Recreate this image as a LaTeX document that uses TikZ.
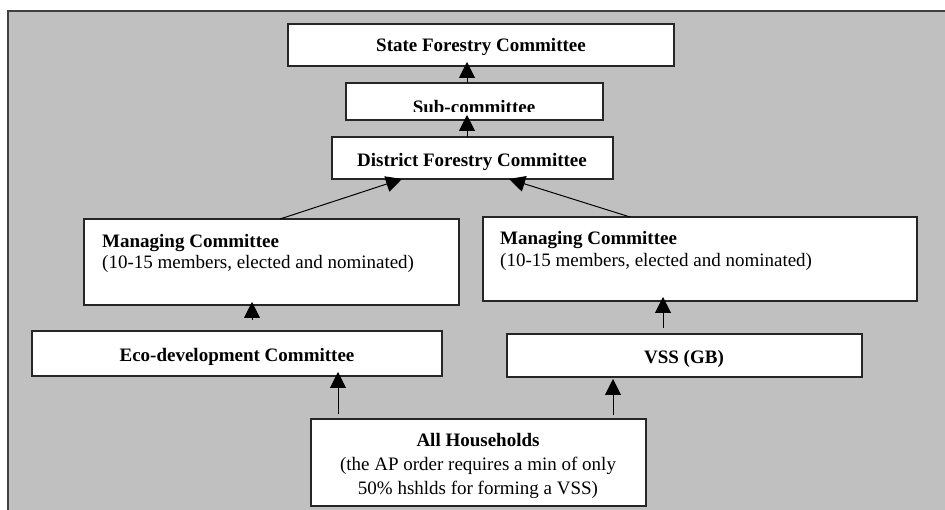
\documentclass[tikz,border=0pt]{standalone}
\usepackage{fontspec}
\setmainfont{Liberation Serif}
\usetikzlibrary{arrows.meta}

\definecolor{panel}{HTML}{C0C0C0}
\definecolor{rim}{HTML}{404040}

\tikzset{
  box/.style={draw=black!85, fill=white, line width=1.2pt, inner sep=0pt},
  lbl/.style={inner sep=0pt, anchor=base, font=\fontsize{19}{22}\selectfont\bfseries},
  lblleft/.style={inner sep=0pt, anchor=base west, font=\fontsize{19}{22}\selectfont},
  note/.style={inner sep=0pt, anchor=base, font=\fontsize{19}{22}\selectfont},
  link/.style={draw=black, line width=1pt, -{Triangle[length=16pt,width=16pt]}},
}

% box given by its corners (x1,y1) and (x2,y2), y measured downwards
\newcommand{\boxat}[5]{%
  \node[box, minimum width={#4-#2}, minimum height={#5-#3}] (#1) at ({(#2+#4)/2},{(#3+#5)/2}) {};}

\begin{document}
\begin{tikzpicture}[x=1pt, y=-1pt]
  \useasboundingbox (0,0) rectangle (945,510);

  % grey panel, its right and bottom edges run off the page
  \begin{scope}
    \clip (0,0) rectangle (945,510);
    \draw[rim, fill=panel, line width=1.5pt] (8,11) rectangle (960,530);
  \end{scope}

  % boxes
  \boxat{sfc}{288}{24}{674}{66}
  \boxat{sub}{346}{83}{603}{120}
  \boxat{dfc}{332}{137}{613}{179}
  \boxat{mcl}{84}{219}{459}{305}
  \boxat{mcr}{483}{217}{917}{301}
  \boxat{eco}{32}{331}{442}{376}
  \boxat{vss}{507}{334}{862}{377}
  \boxat{hh}{311}{419}{646}{506}

  % labels
  \node[lbl] (tsfc) at (481,52) {State Forestry Committee};
  \begin{scope}
    \clip (346,83) rectangle (603,112);
    \node[lbl] (tsub) at (474,114) {Sub-committee};
  \end{scope}
  \node[lbl] (tdfc) at (472,167) {District Forestry Committee};

  \node[lblleft, font=\fontsize{19}{22}\selectfont\bfseries] (tmcl1) at (102,248) {Managing Committee};
  \node[lblleft] (tmcl2) at (102,269) {(10-15 members, elected and nominated)};
  \node[lblleft, font=\fontsize{19}{22}\selectfont\bfseries] (tmcr1) at (500,245) {Managing Committee};
  \node[lblleft] (tmcr2) at (500,267) {(10-15 members, elected and nominated)};

  \node[lbl] (teco) at (237,362) {Eco-development Committee};
  \node[lbl] (tvss) at (684,364) {VSS (GB)};

  \node[lbl] (thh1) at (478,446) {All Households};
  \node[note] (thh2) at (478,470) {(the AP order requires a min of only};
  \node[note] (thh3) at (478,494) {50\% hshlds for forming a VSS)};

  % connector ends
  \coordinate (a1s) at (467,83);  \coordinate (a1e) at (467,62);
  \coordinate (a2s) at (467,137); \coordinate (a2e) at (467,115);
  \coordinate (a3s) at (280,219); \coordinate (a3e) at (402,179);
  \coordinate (a4s) at (630,217); \coordinate (a4e) at (509,179);
  \coordinate (a5s) at (252,320); \coordinate (a5e) at (252,302);
  \coordinate (a6s) at (663,328); \coordinate (a6e) at (663,297);
  \coordinate (a7s) at (338,414); \coordinate (a7e) at (338,372);
  \coordinate (a8s) at (613,415); \coordinate (a8e) at (613,379);

  % connectors
  \draw[link] (a1s) -- (a1e);
  \draw[link] (a2s) -- (a2e);
  \draw[link] (a3s) -- (a3e);
  \draw[link] (a4s) -- (a4e);
  \draw[link] (a5s) -- (a5e);
  \draw[link] (a6s) -- (a6e);
  \draw[link] (a7s) -- (a7e);
  \draw[link] (a8s) -- (a8e);
\end{tikzpicture}
\end{document}
